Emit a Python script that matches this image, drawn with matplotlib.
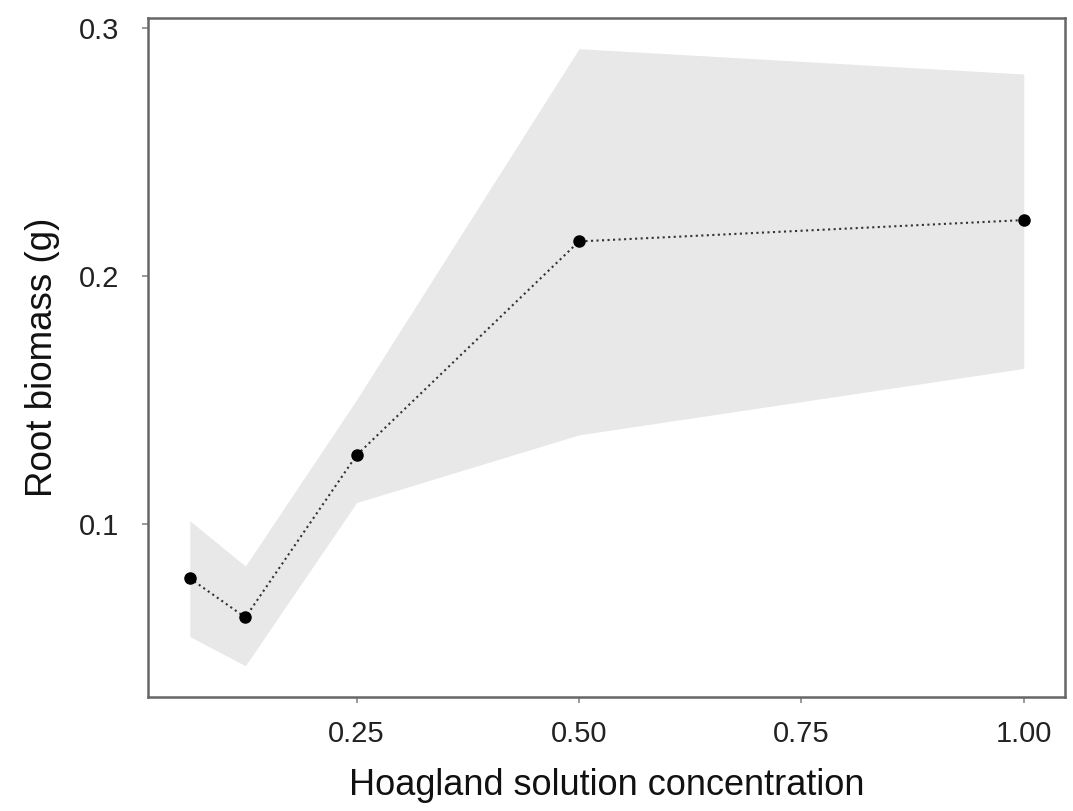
import matplotlib
matplotlib.use("Agg")
import matplotlib.pyplot as plt

plt.rcParams['font.family'] = ['Liberation Sans', 'DejaVu Sans']

# Hoagland concentration levels and root biomass (mean with CI band)
conc = [0.0625, 0.125, 0.25, 0.5, 1.0]
biomass = [0.0780, 0.0622, 0.1276, 0.2138, 0.2224]
ci_low = [0.0545, 0.0427, 0.1085, 0.1358, 0.1626]
ci_high = [0.1012, 0.0829, 0.1500, 0.2915, 0.2813]
xticks = [0.25, 0.50, 0.75, 1.00]
yticks = [0.1, 0.2, 0.3]

fig = plt.figure(figsize=(10.73, 8.11), dpi=100)
ax = fig.add_axes([0.138, 0.141, 0.855, 0.837])

ax.fill_between(conc, ci_low, ci_high, color='#e8e8e8', linewidth=0)
ax.plot(conc, biomass, linestyle=':', color='#333333', linewidth=1.5)
ax.plot(conc, biomass, 'o', color='black', markersize=8)

ax.margins(x=0.05, y=0.05)
ax.set_xticks(xticks)
ax.set_xticklabels(['%.2f' % t for t in xticks])
ax.set_yticks(yticks)
ax.set_yticklabels(['%.1f' % t for t in yticks])

for s in ax.spines.values():
    s.set_color('#666666')
    s.set_linewidth(1.8)
ax.tick_params(length=4, width=1.2, color='#888888', labelsize=21,
               labelcolor='#222222')
ax.tick_params(axis='x', pad=13)
ax.tick_params(axis='y', pad=17)

ax.set_xlabel('Hoagland solution concentration', fontsize=26, color='#111111', labelpad=14)
ax.set_ylabel('Root biomass (g)', fontsize=26.5, color='#111111', labelpad=13)

fig.savefig('out.png', dpi=100)
